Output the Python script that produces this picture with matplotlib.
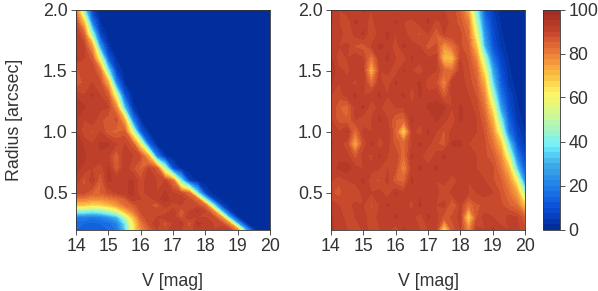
import numpy as np
import matplotlib
matplotlib.use("Agg")
import matplotlib.pyplot as plt
from matplotlib.colors import LinearSegmentedColormap

plt.rcParams['font.family'] = ['Liberation Sans', 'DejaVu Sans']

# completeness [%], columns are V = 14.00, 14.25, ... 20.00
v_mag = [14.0, 14.25, 14.5, 14.75, 15.0, 15.25, 15.5, 15.75, 16.0, 16.25, 16.5, 16.75, 17.0,
         17.25, 17.5, 17.75, 18.0, 18.25, 18.5, 18.75, 19.0, 19.25, 19.5, 19.75, 20.0]

radius_left = [2.0, 1.9, 1.8, 1.7, 1.6, 1.5, 1.4, 1.3, 1.2, 1.1, 1.0, 0.9, 0.8, 0.7, 0.6, 0.5,
               0.45, 0.4, 0.35, 0.3, 0.25, 0.2]
left_rows = [
    [80, 38, 6, 1, 0, 0, 0, 0, 0, 0, 0, 0, 0, 0, 0, 0, 0, 0, 0, 0, 0, 0, 0, 0, 0],
    [88, 68, 18, 2, 0, 0, 0, 0, 0, 0, 0, 0, 0, 0, 0, 0, 0, 0, 0, 0, 0, 0, 0, 0, 0],
    [92, 84, 44, 7, 1, 0, 0, 0, 0, 0, 0, 0, 0, 0, 0, 0, 0, 0, 0, 0, 0, 0, 0, 0, 0],
    [92, 90, 75, 24, 3, 0, 0, 0, 0, 0, 0, 0, 0, 0, 0, 0, 0, 0, 0, 0, 0, 0, 0, 0, 0],
    [93, 90, 86, 56, 12, 2, 0, 0, 0, 0, 0, 0, 0, 0, 0, 0, 0, 0, 0, 0, 0, 0, 0, 0, 0],
    [86, 90, 90, 82, 38, 6, 1, 0, 0, 0, 0, 0, 0, 0, 0, 0, 0, 0, 0, 0, 0, 0, 0, 0, 0],
    [85, 88, 90, 88, 72, 20, 2, 0, 0, 0, 0, 0, 0, 0, 0, 0, 0, 0, 0, 0, 0, 0, 0, 0, 0],
    [92, 90, 93, 90, 86, 54, 11, 1, 0, 0, 0, 0, 0, 0, 0, 0, 0, 0, 0, 0, 0, 0, 0, 0, 0],
    [94, 93, 90, 91, 90, 78, 32, 4, 0, 0, 0, 0, 0, 0, 0, 0, 0, 0, 0, 0, 0, 0, 0, 0, 0],
    [93, 90, 92, 88, 86, 88, 72, 20, 2, 0, 0, 0, 0, 0, 0, 0, 0, 0, 0, 0, 0, 0, 0, 0, 0],
    [93, 88, 87, 90, 85, 84, 86, 56, 12, 2, 0, 0, 0, 0, 0, 0, 0, 0, 0, 0, 0, 0, 0, 0, 0],
    [94, 92, 90, 93, 93, 90, 90, 86, 60, 14, 1, 0, 0, 0, 0, 0, 0, 0, 0, 0, 0, 0, 0, 0, 0],
    [94, 93, 91, 92, 90, 84, 92, 90, 88, 72, 20, 3, 0, 0, 0, 0, 0, 0, 0, 0, 0, 0, 0, 0, 0],
    [93, 92, 90, 88, 93, 85, 92, 88, 84, 90, 86, 50, 10, 1, 0, 0, 0, 0, 0, 0, 0, 0, 0, 0, 0],
    [92, 86, 92, 85, 93, 92, 92, 93, 88, 92, 90, 90, 82, 38, 6, 1, 0, 0, 0, 0, 0, 0, 0, 0, 0],
    [88, 88, 85, 85, 88, 90, 92, 93, 88, 92, 90, 93, 90, 88, 82, 38, 6, 1, 0, 0, 0, 0, 0, 0, 0],
    [80, 80, 78, 78, 80, 82, 85, 92, 90, 88, 92, 93, 92, 92, 88, 82, 38, 6, 1, 0, 0, 0, 0, 0, 0],
    [68, 68, 65, 66, 70, 75, 82, 85, 90, 88, 84, 92, 88, 90, 90, 88, 82, 38, 6, 1, 0, 0, 0, 0, 0],
    [42, 42, 40, 42, 48, 55, 70, 80, 88, 88, 90, 86, 92, 85, 90, 93, 90, 78, 32, 4, 0, 0, 0, 0, 0],
    [20, 20, 18, 20, 24, 30, 48, 68, 85, 90, 90, 92, 92, 86, 92, 90, 90, 88, 76, 28, 3, 0, 0, 0, 0],
    [16, 15, 14, 15, 16, 20, 36, 62, 80, 88, 92, 86, 90, 93, 85, 93, 92, 90, 88, 76, 28, 3, 0, 0, 0],
    [15, 14, 14, 14, 15, 18, 32, 60, 78, 85, 90, 88, 92, 90, 88, 92, 92, 90, 92, 90, 76, 28, 3, 0, 0],
]

radius_right = [2.0, 1.9, 1.8, 1.7, 1.6, 1.5, 1.4, 1.3, 1.2, 1.1, 1.0, 0.9, 0.8, 0.7, 0.6, 0.5,
                0.4, 0.3, 0.2]
right_rows = [
    [92, 90, 92, 90, 93, 90, 92, 91, 89, 91, 93, 90, 91, 93, 90, 90, 84, 72, 40, 13, 5, 1, 0, 0, 0],
    [93, 90, 88, 93, 91, 89, 92, 90, 93, 90, 89, 91, 93, 89, 91, 89, 86, 80, 48, 18, 7, 2, 0, 0, 0],
    [90, 92, 87, 91, 93, 87, 91, 93, 90, 91, 88, 87, 90, 85, 90, 90, 88, 83, 58, 24, 9, 3, 0, 0, 0],
    [91, 90, 91, 87, 86, 90, 93, 92, 88, 93, 91, 90, 86, 88, 76, 82, 88, 85, 68, 30, 11, 4, 1, 0, 0],
    [93, 88, 90, 92, 90, 80, 91, 93, 90, 88, 93, 91, 90, 91, 70, 70, 90, 87, 78, 48, 18, 7, 2, 0, 0],
    [94, 91, 89, 92, 91, 70, 90, 91, 88, 93, 90, 88, 92, 90, 84, 82, 91, 88, 83, 62, 28, 10, 3, 0, 0],
    [93, 90, 91, 89, 92, 82, 91, 88, 93, 90, 91, 93, 88, 88, 78, 92, 91, 89, 85, 72, 36, 13, 4, 1, 0],
    [90, 89, 91, 93, 90, 91, 93, 90, 91, 93, 88, 93, 91, 92, 85, 91, 91, 90, 87, 78, 48, 18, 7, 2, 0],
    [90, 85, 83, 91, 93, 88, 91, 87, 90, 90, 91, 90, 93, 93, 93, 90, 93, 91, 89, 82, 62, 26, 9, 3, 0],
    [90, 86, 85, 90, 88, 90, 93, 90, 85, 84, 93, 91, 90, 93, 91, 88, 93, 91, 90, 85, 72, 40, 13, 4, 1],
    [91, 90, 93, 82, 91, 90, 91, 92, 84, 64, 91, 88, 93, 90, 87, 91, 91, 91, 90, 87, 78, 54, 18, 7, 2],
    [93, 91, 88, 72, 88, 93, 88, 91, 86, 84, 90, 93, 91, 88, 86, 93, 93, 90, 90, 88, 82, 70, 36, 11, 4],
    [90, 92, 91, 86, 91, 89, 93, 90, 90, 82, 93, 91, 87, 91, 93, 90, 91, 91, 90, 88, 86, 78, 54, 20, 7],
    [91, 93, 94, 91, 90, 91, 90, 90, 88, 78, 91, 93, 91, 93, 91, 92, 90, 91, 90, 90, 88, 82, 70, 34, 11],
    [90, 88, 90, 91, 93, 88, 87, 91, 85, 84, 93, 90, 92, 90, 91, 88, 91, 90, 91, 90, 88, 85, 78, 60, 20],
    [88, 86, 90, 87, 91, 90, 91, 88, 93, 90, 91, 92, 90, 91, 88, 91, 91, 90, 90, 91, 90, 87, 82, 74, 46],
    [91, 90, 88, 91, 90, 87, 90, 93, 91, 91, 89, 93, 91, 90, 91, 84, 90, 82, 87, 88, 90, 88, 85, 82, 68],
    [93, 91, 89, 90, 91, 88, 91, 90, 93, 90, 91, 88, 93, 91, 86, 88, 91, 64, 87, 91, 90, 88, 91, 90, 85],
    [93, 91, 90, 87, 91, 89, 90, 91, 88, 93, 91, 90, 90, 91, 64, 86, 90, 78, 91, 90, 93, 91, 90, 91, 88],
]

xticks = [14, 15, 16, 17, 18, 19, 20]
yticks = [0.5, 1.0, 1.5, 2.0]
cbar_ticks = [0, 20, 40, 60, 80, 100]

cmap = LinearSegmentedColormap.from_list("compl", [
    (0.00, "#002a94"), (0.10, "#0a4fd8"), (0.20, "#1f80e8"), (0.30, "#40b0ea"),
    (0.38, "#70f0ff"), (0.46, "#a8f5c0"), (0.55, "#e0f880"), (0.62, "#fff566"),
    (0.70, "#fbc040"), (0.80, "#ef7f3a"), (0.90, "#c4432b"), (1.00, "#9c2a22")])

W, H = 598.0, 291.0
fig = plt.figure(figsize=(W / 100, H / 100), dpi=100)
ax1 = fig.add_axes([76 / W, 1 - 229.5 / H, 194 / W, 220 / H])
ax2 = fig.add_axes([331 / W, 1 - 229.5 / H, 194 / W, 220 / H])
cax = fig.add_axes([542.5 / W, 1 - 229.5 / H, 17.5 / W, 220 / H])

levels = np.linspace(0, 100, 41)
ax1.contourf(v_mag, radius_left, np.array(left_rows), levels=levels, cmap=cmap)
cs = ax2.contourf(v_mag, radius_right, np.array(right_rows), levels=levels, cmap=cmap)

ink = "#333333"
fs = 12.8
for ax in (ax1, ax2):
    ax.set_xlim(14, 20)
    ax.set_ylim(0.2, 2.0)
    ax.set_xticks(xticks)
    ax.set_yticks(yticks)
    ax.set_yticklabels(["%.1f" % t for t in yticks])
    ax.tick_params(labelsize=fs, length=3.6, width=0.6, color=ink, labelcolor=ink, pad=2.5)
    ax.set_xlabel("V [mag]", fontsize=fs, color=ink, labelpad=13)
    for s in ax.spines.values():
        s.set_linewidth(0.6)
        s.set_color(ink)
ax1.set_ylabel("Radius [arcsec]", fontsize=fs, color=ink, labelpad=14)

cb = fig.colorbar(cs, cax=cax, ticks=cbar_ticks)
cb.ax.tick_params(labelsize=fs, length=3.6, width=0.6, color=ink, labelcolor=ink, pad=2.5)
cb.outline.set_linewidth(0.6)
cb.outline.set_edgecolor(ink)

fig.savefig("out.png", dpi=100)
